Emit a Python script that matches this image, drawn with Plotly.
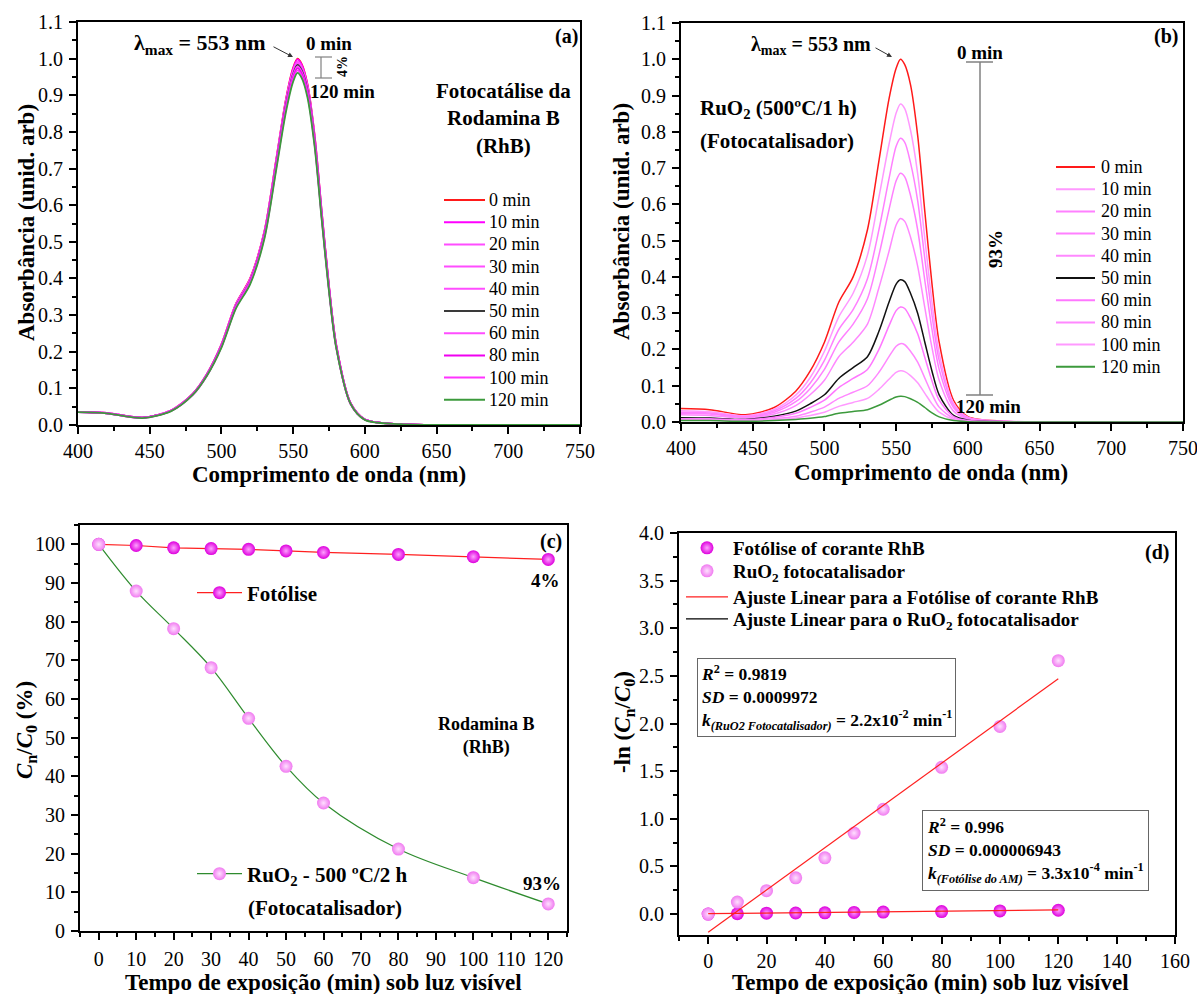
import plotly.graph_objects as go

W, H = 1197, 994
FONT = "Liberation Serif"

# ---------------- data ----------------
wavelength = [400, 420, 445, 465, 480, 490, 500, 510, 520, 530, 538, 545, 550, 553,
              556, 560, 565, 570, 575, 580, 590, 600, 625, 680, 750]
time_labels = ["0 min", "10 min", "20 min", "30 min", "40 min", "50 min",
               "60 min", "80 min", "100 min", "120 min"]

# (a) photolysis spectra of RhB
a_0min = [.036, .033, .020, .040, .085, .140, .220, .330, .400, .530, .720, .890, .975, 1.000, .985, .930, .790, .580, .380, .220, .060, .015, .002, 0, 0]
a_10min = [.036, .033, .020, .040, .085, .140, .220, .329, .399, .529, .719, .888, .973, .998, .983, .928, .788, .579, .379, .220, .060, .015, .002, 0, 0]
a_20min = [.036, .033, .020, .040, .084, .139, .218, .327, .397, .526, .714, .883, .967, .992, .977, .923, .784, .575, .377, .218, .060, .015, .002, 0, 0]
a_30min = [.036, .033, .020, .040, .084, .139, .218, .327, .396, .525, .713, .881, .965, .990, .975, .921, .782, .574, .376, .218, .059, .015, .002, 0, 0]
a_40min = [.036, .033, .020, .039, .084, .138, .217, .326, .395, .523, .711, .878, .962, .987, .972, .918, .780, .572, .375, .217, .059, .015, .002, 0, 0]
a_50min = [.035, .032, .020, .039, .084, .138, .216, .324, .393, .521, .708, .875, .958, .983, .968, .914, .777, .570, .374, .216, .059, .015, .002, 0, 0]
a_60min = [.035, .032, .020, .039, .083, .137, .215, .323, .392, .519, .705, .871, .955, .979, .964, .910, .773, .568, .372, .215, .059, .015, .002, 0, 0]
a_80min = [.035, .032, .019, .039, .083, .136, .214, .321, .390, .516, .701, .867, .950, .974, .959, .906, .769, .565, .370, .214, .058, .015, .002, 0, 0]
a_100min = [.035, .032, .019, .039, .082, .136, .213, .319, .387, .513, .697, .862, .944, .968, .953, .900, .765, .561, .368, .213, .058, .015, .002, 0, 0]
a_120min = [.035, .032, .019, .038, .082, .135, .211, .317, .384, .509, .692, .855, .937, .961, .947, .894, .759, .557, .365, .211, .058, .014, .002, 0, 0]

# (b) RuO2 photocatalysis spectra
b_0min = [.037, .034, .020, .040, .085, .140, .220, .330, .400, .530, .720, .890, .975, 1.000, .985, .930, .790, .580, .380, .220, .060, .015, .002, 0, 0]
b_10min = [.031, .028, .017, .035, .074, .122, .195, .290, .355, .460, .620, .765, .852, .877, .864, .805, .685, .505, .330, .190, .052, .013, .002, 0, 0]
b_20min = [.027, .025, .015, .031, .065, .107, .170, .255, .310, .395, .530, .670, .760, .782, .771, .715, .610, .450, .295, .170, .046, .012, .002, 0, 0]
b_30min = [.024, .022, .013, .027, .056, .092, .145, .220, .270, .340, .460, .585, .665, .686, .676, .625, .530, .390, .255, .145, .040, .010, .002, 0, 0]
b_40min = [.020, .018, .011, .022, .045, .075, .115, .180, .220, .270, .370, .470, .543, .561, .553, .510, .430, .315, .205, .115, .030, .008, .001, 0, 0]
b_50min = [.012, .011, .007, .016, .030, .050, .075, .120, .150, .180, .250, .330, .380, .392, .387, .355, .300, .220, .140, .075, .018, .005, .001, 0, 0]
b_60min = [.009, .009, .006, .013, .024, .040, .060, .095, .120, .145, .200, .265, .307, .317, .313, .287, .243, .178, .113, .060, .015, .004, .001, 0, 0]
b_80min = [.007, .006, .004, .009, .016, .027, .041, .065, .082, .100, .137, .180, .209, .216, .213, .195, .165, .121, .077, .041, .010, .003, 0, 0, 0]
b_100min = [.005, .005, .003, .006, .011, .018, .027, .043, .054, .065, .090, .118, .137, .141, .139, .128, .108, .079, .050, .027, .007, .002, 0, 0, 0]
b_120min = [.004, .004, .002, .004, .007, .010, .015, .024, .029, .034, .046, .060, .069, .071, .070, .064, .054, .040, .025, .014, .004, .001, 0, 0, 0]

# (c) Cn/C0 (%)
time_min = [0, 10, 20, 30, 40, 50, 60, 80, 100, 120]
fotolise_pct = [100, 99.7, 99.1, 98.9, 98.7, 98.3, 97.9, 97.4, 96.8, 96.1]
ruo2_pct = [100, 87.9, 78.2, 68.1, 55.0, 42.6, 33.1, 21.2, 13.8, 7.0]

# (d) -ln(Cn/C0) and linear fits
fotolise_ln = [0.0, 0.003, 0.009, 0.011, 0.013, 0.017, 0.021, 0.026, 0.033, 0.040]
ruo2_ln = [0.0, 0.126, 0.245, 0.380, 0.590, 0.850, 1.100, 1.540, 1.970, 2.660]
fit_time = [0, 120]
fit_fotolise = [0.004, 0.043]
fit_ruo2 = [-0.19, 2.47]

# ---------------- styles ----------------
spectra_a = [a_0min, a_10min, a_20min, a_30min, a_40min, a_50min, a_60min, a_80min, a_100min, a_120min]
spectra_b = [b_0min, b_10min, b_20min, b_30min, b_40min, b_50min, b_60min, b_80min, b_100min, b_120min]
colors_a = ["#ff1a1a", "#ff00ff", "#ff4dff", "#ff4dff", "#ff4dff", "#3a3a3a",
            "#ff4dff", "#f000f0", "#ff33ff", "#3c9a3c"]
colors_b = ["#ff1a1a", "#ff99ff", "#ff80ff", "#ff80ff", "#ff88ff", "#111111",
            "#ff77ff", "#ff88ff", "#ff99ff", "#3c9a3c"]

def P(x, y):
    return x / W, 1 - y / H

fig = go.Figure()

for name, ys, c in zip(time_labels, spectra_a, colors_a):
    fig.add_trace(go.Scatter(x=wavelength, y=ys, mode="lines", name=name,
                             line=dict(color=c, width=1.8, shape="spline", smoothing=0.8),
                             showlegend=False, xaxis="x", yaxis="y"))
for name, ys, c in zip(time_labels, spectra_b, colors_b):
    fig.add_trace(go.Scatter(x=wavelength, y=ys, mode="lines", name=name,
                             line=dict(color=c, width=1.5, shape="spline", smoothing=0.8),
                             showlegend=False, xaxis="x2", yaxis="y2"))

mk_fot = dict(symbol="circle", size=13, color="#dd00dd",
              gradient=dict(type="radial", color="#ffa0ff"), line=dict(width=0))
mk_ruo = dict(symbol="circle", size=13, color="#f07af0",
              gradient=dict(type="radial", color="#ffe0ff"), line=dict(width=0))

# panel c
fig.add_trace(go.Scatter(x=time_min, y=fotolise_pct, mode="lines+markers", name="Fotólise",
                         line=dict(color="#ff2020", width=1.2), marker=mk_fot,
                         xaxis="x3", yaxis="y3", legend="legend"))
fig.add_trace(go.Scatter(x=time_min, y=ruo2_pct, mode="lines+markers",
                         name="RuO<sub>2</sub> - 500 ºC/2 h",
                         line=dict(color="#2e8b2e", width=1.2, shape="spline"), marker=mk_ruo,
                         xaxis="x3", yaxis="y3", legend="legend2"))

# panel d
fig.add_trace(go.Scatter(x=time_min, y=fotolise_ln, mode="markers", name="Fotólise of corante RhB",
                         marker=mk_fot, xaxis="x4", yaxis="y4", legend="legend3"))
fig.add_trace(go.Scatter(x=time_min, y=ruo2_ln, mode="markers", name="RuO<sub>2</sub> fotocatalisador",
                         marker=mk_ruo, xaxis="x4", yaxis="y4", legend="legend4"))
fig.add_trace(go.Scatter(x=fit_time, y=fit_fotolise, mode="lines",
                         name="Ajuste Linear para a Fotólise of corante RhB",
                         line=dict(color="#ff2020", width=1.2), xaxis="x4", yaxis="y4", legend="legend5"))
fig.add_trace(go.Scatter(x=fit_time, y=fit_ruo2, mode="lines", name="fit RuO2",
                         line=dict(color="#ff2020", width=1.2), showlegend=False,
                         xaxis="x4", yaxis="y4"))
fig.add_trace(go.Scatter(x=[None], y=[None], mode="lines",
                         name="Ajuste Linear para o RuO<sub>2</sub> fotocatalisador",
                         line=dict(color="black", width=1.2), xaxis="x4", yaxis="y4", legend="legend6"))

tickfont = dict(family=FONT, size=20, color="black")

def axis(domain, rng, dtick, minor_dtick, fmt=None, tick0=0, lab_off=0):
    d = dict(domain=domain, range=rng, dtick=dtick, tick0=tick0, showline=True, linecolor="black",
             linewidth=2, mirror=True, ticks="outside", ticklen=7, tickwidth=2, tickcolor="black",
             showgrid=False, zeroline=False, tickfont=tickfont, automargin=False,
             ticklabelstandoff=lab_off, ticklabeloverflow="allow",
             minor=dict(dtick=minor_dtick, tick0=tick0, ticks="outside", ticklen=4, tickwidth=2,
                        tickcolor="black", showgrid=False))
    if fmt:
        d["tickformat"] = fmt
    return d

xa_dom = [78 / W, 580 / W]
ya_dom = [1 - 425 / H, 1 - 22 / H]
xb_dom = [681 / W, 1183 / W]
yb_dom = [1 - 422 / H, 1 - 23 / H]
xc_dom = [80 / W, 567 / W]
yc_dom = [1 - 931 / H, 1 - 525 / H]
xd_dom = [679 / W, 1175 / W]
yd_dom = [1 - 935 / H, 1 - 533 / H]

def leg(x, y, size, itemwidth):
    return dict(x=x / W, y=1 - y / H, xanchor="left", yanchor="middle", bgcolor="rgba(0,0,0,0)",
                font=dict(family=FONT, size=size, weight="bold", color="black"),
                itemwidth=itemwidth, borderwidth=0)

fig.update_layout(
    width=W, height=H, margin=dict(l=0, r=0, t=0, b=0, autoexpand=False),
    paper_bgcolor="white", plot_bgcolor="white",
    font=dict(family=FONT, color="black"),
    xaxis=dict(axis(xa_dom, [400, 750], 50, 25, lab_off=0), anchor="y"),
    yaxis=dict(axis(ya_dom, [0, 1.1], 0.1, 0.05, ".1f", lab_off=2), anchor="x"),
    xaxis2=dict(axis(xb_dom, [400, 750], 50, 25, lab_off=0), anchor="y2"),
    yaxis2=dict(axis(yb_dom, [0, 1.1], 0.1, 0.05, ".1f", lab_off=2), anchor="x2"),
    xaxis3=dict(axis(xc_dom, [-5, 125], 10, 5, lab_off=2), anchor="y3"),
    yaxis3=dict(axis(yc_dom, [0, 105], 10, 5, lab_off=2), anchor="x3"),
    xaxis4=dict(axis(xd_dom, [-10, 160], 20, 10, lab_off=0), anchor="y4"),
    yaxis4=dict(axis(yd_dom, [-0.22, 4.0], 0.5, 0.25, ".1f", lab_off=2), anchor="x4"),
    legend=leg(192, 593, 21, 45),
    legend2=leg(192, 874, 21, 45),
    legend3=leg(681, 548, 19, 42),
    legend4=leg(681, 571, 19, 42),
    legend5=leg(681, 597, 19, 42),
    legend6=leg(681, 619, 19, 42),
)

ann = []
shapes = []

def txt(x, y, s, size=20, xanchor="center", yanchor="middle", **kw):
    px, py = P(x, y)
    d = dict(x=px, y=py, xref="paper", yref="paper", text=s, showarrow=False,
             font=dict(family=FONT, size=size, color="black"), xanchor=xanchor, yanchor=yanchor)
    d.update(kw)
    ann.append(d)

def arrow(x0, y0, x1, y1):
    px, py = P(x1, y1)
    ann.append(dict(x=px, y=py, xref="paper", yref="paper", text="", showarrow=True,
                    ax=x0 - x1, ay=y0 - y1, arrowhead=2, arrowsize=1, arrowwidth=1,
                    arrowcolor="#333333"))

def seg(x0, y0, x1, y1, color="#808080", width=1.2):
    p0 = P(x0, y0); p1 = P(x1, y1)
    shapes.append(dict(type="line", xref="paper", yref="paper", x0=p0[0], y0=p0[1],
                       x1=p1[0], y1=p1[1], line=dict(color=color, width=width)))

# axis titles
XT_AB = "<b>Comprimento de onda (nm)</b>"
YT_AB = "<b>Absorbância (unid. arb)</b>"
XT_CD = "<b>Tempo de exposição (min) sob luz visível</b>"
txt(329, 474, XT_AB, 23)
txt(931, 472, XT_AB, 23)
txt(27, 223, YT_AB, 23, textangle=-90)
txt(621, 222, YT_AB, 23, textangle=-90)
txt(323, 982, XT_CD, 23)
txt(930, 982, XT_CD, 23)
txt(26, 730, "<b><i>C</i><sub>n</sub>/<i>C</i><sub>0</sub> (%)</b>", 23, textangle=-90)
txt(624, 722, "<b>-ln (<i>C</i><sub>n</sub>/<i>C</i><sub>0</sub>)</b>", 23, textangle=-90)

# panel a texts
txt(200, 44, "<b>λ<sub>max</sub> = 553 nm</b>", 22)
arrow(272, 46, 293, 57)
txt(329, 43, "<b>0 min</b>", 19)
txt(343, 67, "<b>4%</b>", 14, textangle=-90)
txt(342, 92, "<b>120 min</b>", 19)
seg(315, 57, 332, 57); seg(315, 78, 332, 78); seg(321, 57, 321, 78)
txt(503, 118, "<b>Fotocatálise da<br>Rodamina B<br>(RhB)</b>", 21, align="center")
txt(566, 37, "<b>(a)</b>", 20)

# panel b texts
txt(811, 45, "<b>λ<sub>max</sub> = 553 nm</b>", 20)
arrow(874, 47, 892, 57)
txt(980, 52, "<b>0 min</b>", 19)
seg(980, 62, 980, 395, width=1.5); seg(966, 62, 993, 62, width=1.5); seg(966, 395, 993, 395, width=1.5)
txt(996, 249, "<b>93%</b>", 19, textangle=-90)
txt(988, 407, "<b>120 min</b>", 19)
txt(698, 109, "<b>RuO<sub>2</sub> (500ºC/1 h)</b>", 21, xanchor="left")
txt(698, 141, "<b>(Fotocatalisador)</b>", 21, xanchor="left")
txt(1166, 37, "<b>(b)</b>", 20)

# manual legends for spectra
for i, (lab, c) in enumerate(zip(time_labels, colors_a)):
    yy = 200 + 22.2 * i
    seg(444, yy, 485, yy, color=c, width=2)
    txt(487, yy, lab, 18, xanchor="left")
for i, (lab, c) in enumerate(zip(time_labels, colors_b)):
    yy = 167 + 22.2 * i
    seg(1056, yy, 1095, yy, color=c, width=2)
    txt(1099, yy, lab, 18, xanchor="left")

# panel c texts
txt(551, 541, "<b>(c)</b>", 20)
txt(545, 580, "<b>4%</b>", 19)
txt(542, 883, "<b>93%</b>", 19)
txt(486, 736, "<b>Rodamina B<br>(RhB)</b>", 18, align="center")
txt(246, 908, "<b>(Fotocatalisador)</b>", 21, xanchor="left")

# panel d texts
txt(1157, 552, "<b>(d)</b>", 20)
txt(697, 658, "<b><i>R</i><sup>2</sup> = 0.9819<br><i>SD</i> = 0.0009972<br>"
              "<i>k</i><sub><i>(RuO2 Fotocatalisador)</i></sub> = 2.2x10<sup>-2</sup> min<sup>-1</sup></b>",
    17.5, xanchor="left", yanchor="top", align="left", bordercolor="#666666", borderwidth=1, borderpad=3)
txt(922, 810, "<b><i>R</i><sup>2</sup> = 0.996<br><i>SD</i> = 0.000006943<br>"
              "<i>k</i><sub><i>(Fotólise do AM)</i></sub> = 3.3x10<sup>-4</sup> min<sup>-1</sup></b>",
    17.5, xanchor="left", yanchor="top", align="left", bordercolor="#666666", borderwidth=1, borderpad=4)

fig.update_layout(annotations=ann, shapes=shapes)
fig.write_html("out.html")
